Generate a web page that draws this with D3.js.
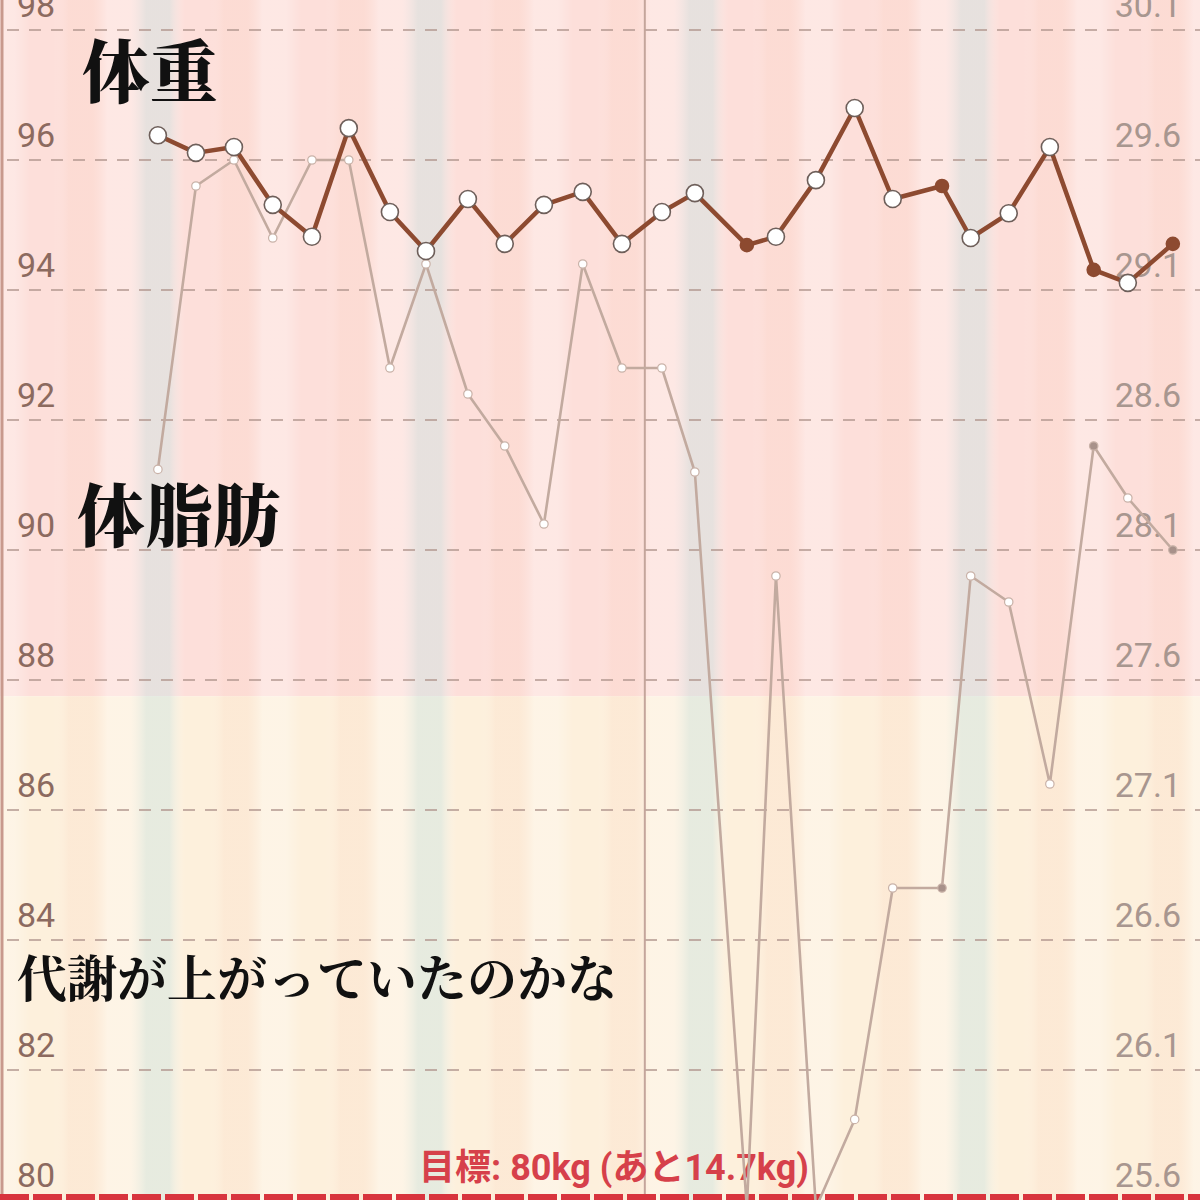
<!DOCTYPE html>
<html>
<head>
<meta charset="utf-8">
<script src="https://cdn.jsdelivr.net/npm/d3@7/dist/d3.min.js"></script>
<style>
  html, body { margin: 0; padding: 0; background: #fff; }
  svg { display: block; }
</style>
</head>
<body>
<svg id="chart" width="1200" height="1200"></svg>
<script>
// ---- data ----
const days = [0, 0.98, 1.96, 2.96, 3.97, 4.92, 5.98, 6.91, 7.99, 8.94, 9.95, 10.95, 11.96, 12.99,
              13.84, 15.18, 15.93, 16.96, 17.96, 18.94, 20.21, 20.95, 21.93, 22.99, 24.12, 25.0, 26.16];
const weight = [96.38, 96.11, 96.2, 95.31, 94.82, 96.49, 95.2, 94.6, 95.4, 94.71, 95.31, 95.51, 94.71, 95.2,
                95.49, 94.69, 94.82, 95.69, 96.8, 95.4, 95.6, 94.8, 95.18, 96.2, 94.31, 94.11, 94.71];
const bodyFat = [28.41, 29.5, 29.6, 29.3, 29.6, 29.6, 28.8, 29.2, 28.7, 28.5, 28.2, 29.2, 28.8, 28.8,
                 28.4, 25.57, 28.0, 25.57, 25.91, 26.8, 26.8, 28.0, 27.9, 27.2, 28.5, 28.3, 28.1];
const filledIdx = [15, 20, 24, 26];
const leftTicks = [98, 96, 94, 92, 90, 88, 86, 84, 82, 80];
const rightTicks = ["30.1", "29.6", "29.1", "28.6", "28.1", "27.6", "27.1", "26.6", "26.1", "25.6"];
const goalWeight = 80;
const goalLabel = "目標: 80kg (あと14.7kg)";
const zoneBoundary = 87.75;         // pink zone above, cream zone below
const monthDivider = 12.55;         // vertical divider line (day)
const stripeDays = d3.range(-5, 29);
const stripeCycle = ["week", "none", "peach", "light", "none", "peach", "light"];
const notes = [
  { text: "体重", x: 82, y: 97, size: 68, weight: 900 },
  { text: "体脂肪", x: 77, y: 541, size: 68, weight: 900 },
  { text: "代謝が上がっていたのかな", x: 17, y: 997, size: 50, weight: 700 }
];

// ---- scales ----
const W = 1200, H = 1200;
const x = d3.scaleLinear().domain([-4.07, 26.86]).range([0, W]);
const yL = d3.scaleLinear().domain([80, 98]).range([1200, 30]);
const yR = d3.scaleLinear().domain([25.6, 30.1]).range([1200, 30]);
const dayW = x(1) - x(0);

const svg = d3.select("#chart");
const defs = svg.append("defs");

// background zones
svg.append("rect").attr("x", 0).attr("y", 0).attr("width", W).attr("height", yL(zoneBoundary))
  .attr("fill", "#fddfda");
svg.append("rect").attr("x", 0).attr("y", yL(zoneBoundary)).attr("width", W).attr("height", H - yL(zoneBoundary))
  .attr("fill", "#fdf0dc");

// soft day stripes via a horizontal gradient
const tint = {
  week: ["rgb(200,228,228)", 0.42],
  peach: ["rgb(250,205,185)", 0.18],
  light: ["rgb(255,255,255)", 0.28],
  none: ["rgb(255,255,255)", 0.0]
};
const grad = defs.append("linearGradient").attr("id", "stripes")
  .attr("gradientUnits", "userSpaceOnUse")
  .attr("x1", 0).attr("x2", W).attr("y1", 0).attr("y2", 0);
const stops = [];
stripeDays.forEach(d => {
  const t = tint[stripeCycle[((d % 7) + 7) % 7]];
  stops.push({ o: x(d) - dayW * 0.3, c: t[0], a: t[1] });
  stops.push({ o: x(d) + dayW * 0.3, c: t[0], a: t[1] });
});
grad.selectAll("stop").data(stops).join("stop")
  .attr("offset", s => Math.max(0, Math.min(1, s.o / W)))
  .attr("stop-color", s => s.c)
  .attr("stop-opacity", s => s.a);
svg.append("rect").attr("x", 0).attr("y", 0).attr("width", W).attr("height", H)
  .attr("fill", "url(#stripes)");

// left edge line
svg.append("line").attr("x1", 2).attr("x2", 2).attr("y1", 0).attr("y2", H)
  .attr("stroke", "#c8998d").attr("stroke-width", 3);

// gridlines (except goal level)
svg.append("g").selectAll("line").data(leftTicks.filter(t => t !== goalWeight)).join("line")
  .attr("x1", 7).attr("x2", W)
  .attr("y1", d => yL(d)).attr("y2", d => yL(d))
  .attr("stroke", "#b39890").attr("stroke-width", 1.6)
  .attr("stroke-dasharray", "12 10");

// month divider
svg.append("line").attr("x1", x(monthDivider)).attr("x2", x(monthDivider)).attr("y1", 0).attr("y2", H)
  .attr("stroke", "#c4a59b").attr("stroke-width", 2);

// left axis labels
svg.append("g").selectAll("text").data(leftTicks).join("text")
  .attr("x", 17).attr("y", d => yL(d) - 13)
  .attr("font-family", "Roboto, 'Liberation Sans', sans-serif")
  .attr("font-weight", 400)
  .attr("font-size", 34)
  .attr("fill", "#8c6a5f")
  .text(d => d);

// right axis labels
svg.append("g").selectAll("text").data(rightTicks).join("text")
  .attr("x", 1181).attr("y", d => yR(+d) - 13)
  .attr("text-anchor", "end")
  .attr("font-family", "Roboto, 'Liberation Sans', sans-serif")
  .attr("font-weight", 400)
  .attr("font-size", 34)
  .attr("fill", "#a8968f")
  .text(d => d);

// goal line
svg.append("line").attr("x1", 0).attr("x2", W).attr("y1", yL(goalWeight)).attr("y2", yL(goalWeight))
  .attr("stroke", "#d8343d").attr("stroke-width", 12)
  .attr("stroke-dasharray", "29 4");

svg.append("text").attr("x", 614).attr("y", 1180)
  .attr("text-anchor", "middle")
  .attr("font-family", "Roboto, 'Noto Sans CJK JP', sans-serif")
  .attr("font-weight", 700)
  .attr("font-size", 36)
  .attr("fill", "#d6404a")
  .text(goalLabel);

// body fat series
const fatPts = days.map((d, i) => ({ d, v: bodyFat[i], filled: filledIdx.includes(i) }));
svg.append("path").datum(fatPts)
  .attr("fill", "none").attr("stroke", "#c2aa9f").attr("stroke-width", 2.6)
  .attr("stroke-linejoin", "round")
  .attr("d", d3.line().x(p => x(p.d)).y(p => yR(p.v)));
svg.append("g").selectAll("circle").data(fatPts).join("circle")
  .attr("cx", p => x(p.d)).attr("cy", p => yR(p.v)).attr("r", 4.2)
  .attr("fill", p => p.filled ? "#a8918a" : "#ffffff")
  .attr("stroke", "#c9b2a8").attr("stroke-width", 1.2);

// weight series
const wPts = days.map((d, i) => ({ d, v: weight[i], filled: filledIdx.includes(i) }));
svg.append("path").datum(wPts)
  .attr("fill", "none").attr("stroke", "#8d4a30").attr("stroke-width", 4.5)
  .attr("stroke-linejoin", "round")
  .attr("d", d3.line().x(p => x(p.d)).y(p => yL(p.v)));
svg.append("g").selectAll("circle").data(wPts).join("circle")
  .attr("cx", p => x(p.d)).attr("cy", p => yL(p.v))
  .attr("r", p => p.filled ? 6.5 : 8.5)
  .attr("fill", p => p.filled ? "#8d4a30" : "#ffffff")
  .attr("stroke", p => p.filled ? "#8d4a30" : "#6e5f5a").attr("stroke-width", 1.6);

// annotations
svg.append("g").selectAll("text").data(notes).join("text")
  .attr("x", n => n.x).attr("y", n => n.y)
  .attr("font-family", "'Noto Serif CJK JP', 'Noto Sans CJK JP', serif")
  .attr("font-weight", n => n.weight)
  .attr("font-size", n => n.size)
  .attr("fill", "#111")
  .text(n => n.text);
</script>
</body>
</html>
